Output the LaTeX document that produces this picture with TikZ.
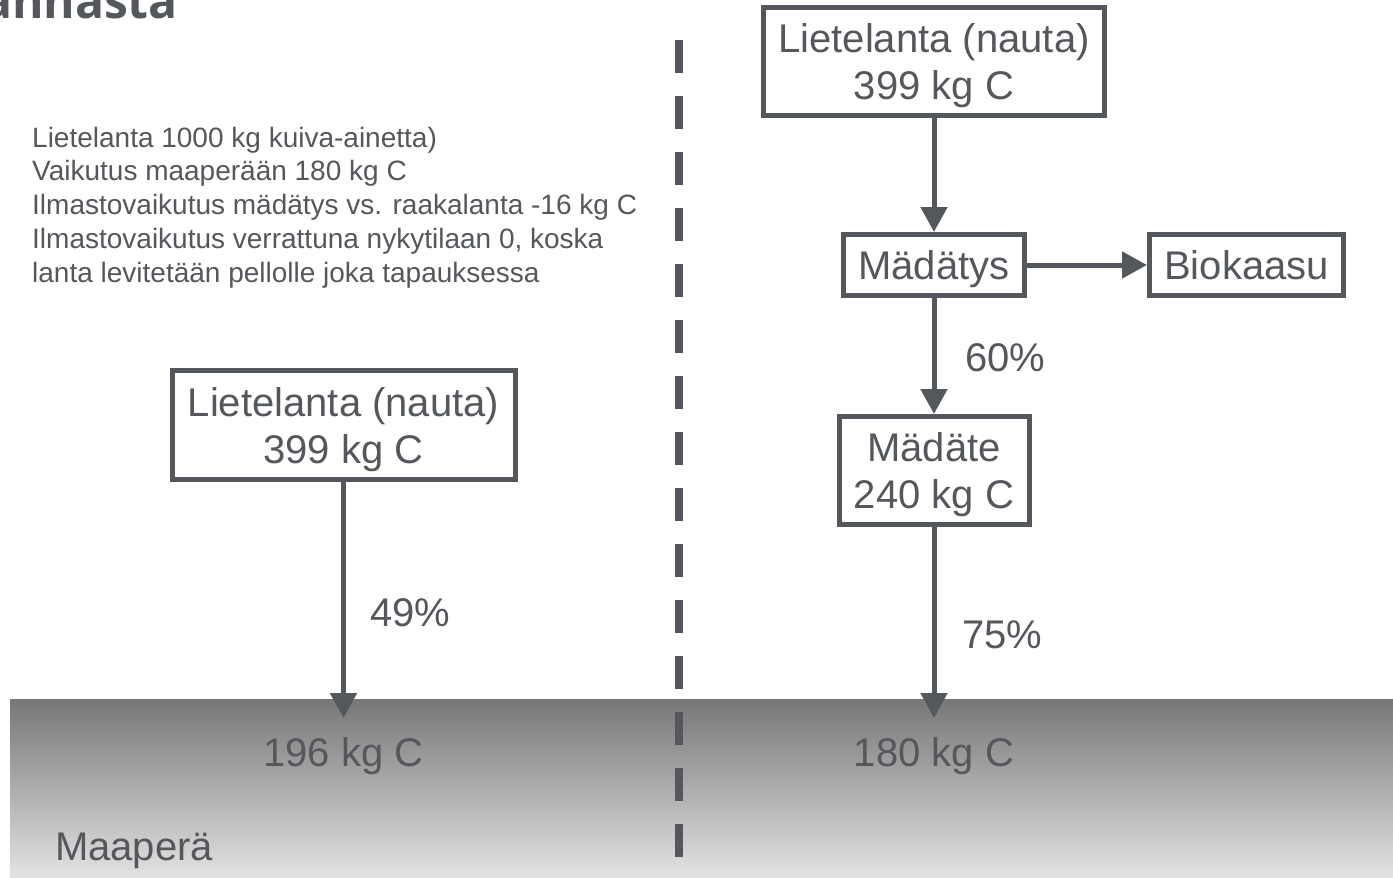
\documentclass[tikz,border=0pt]{standalone}
\usepackage{fontspec}
\setmainfont{Liberation Sans}
\newfontfamily\titlefont{Open Sans}
\usetikzlibrary{arrows.meta}
\definecolor{ink}{RGB}{84,88,92}
\definecolor{soiltop}{RGB}{119,119,119}
\definecolor{soilbot}{RGB}{227,227,227}
\begin{document}
\begin{tikzpicture}[x=1pt,y=-1pt,
  box/.style={draw=ink, line width=5pt, inner sep=0pt, text=ink, font=\fontsize{40}{47}\selectfont, align=center},
  two/.style={text height=76pt, text depth=0pt},
  one/.style={text height=29pt, text depth=0pt},
  arr/.style={draw=ink, line width=5pt, -{Triangle[width=26pt,length=25pt]}},
  lbl/.style={text=ink, inner sep=0pt, font=\fontsize{40}{47}\selectfont},
  divider/.style={draw=ink, line width=8pt, dash pattern=on 33pt off 23pt}]
\path[use as bounding box] (0,0) rectangle (1393,878);
\clip (0,0) rectangle (1393,878);
\fill[white] (0,0) rectangle (1393,878);
\fill[top color=soiltop, bottom color=soilbot] (10,699) rectangle (1393,878);

\node[anchor=base east, inner sep=0pt, text=ink, font=\titlefont\bfseries\fontsize{48}{50}\selectfont] (title) at (178,19) {annasta};

\node[anchor=base west, inner sep=0pt, text=ink, align=left, font=\fontsize{28}{33.75}\selectfont] (note) at (32,282)
  {Lietelanta 1000 kg kuiva-ainetta)\\Vaikutus maaperään 180 kg C\\Ilmastovaikutus mädätys vs. raakalanta -16 kg C\\Ilmastovaikutus verrattuna nykytilaan 0, koska\\lanta levitetään pellolle joka tapauksessa};

\coordinate (d1) at (679,40);
\coordinate (d2) at (679,857);
\draw[divider] (d1) -- (d2);

\node[box,two,minimum width=343pt,minimum height=109pt] (L1) at (343.5,425) {Lietelanta (nauta)\\399 kg C};
\node[box,two,minimum width=341pt,minimum height=108pt] (R1) at (934,61.5) {Lietelanta (nauta)\\399 kg C};
\node[box,one,minimum width=181pt,minimum height=61pt] (R2) at (934,265) {Mädätys};
\node[box,one,minimum width=194pt,minimum height=61pt] (R3) at (1246.5,265) {Biokaasu};
\node[box,two,minimum width=190pt,minimum height=108pt] (R4) at (934,470.5) {Mädäte\\240 kg C};

\coordinate (s1) at (L1.south |- 0,718);
\coordinate (s2) at (R4.south |- 0,718);

\draw[arr] (L1.south) -- (s1);
\draw[arr] (R1.south) -- (R2.north);
\draw[arr] (R2.east) -- (R3.west);
\draw[arr] (R2.south) -- (R4.north);
\draw[arr] (R4.south) -- (s2);

\node[lbl, anchor=base west] (p49) at (370,626) {49\%};
\node[lbl, anchor=base west] (p60) at (965,371) {60\%};
\node[lbl, anchor=base west] (p75) at (962,648) {75\%};
\node[lbl, anchor=base] (c196) at (343.5,766) {196 kg C};
\node[lbl, anchor=base] (c180) at (934,766) {180 kg C};
\node[lbl, anchor=base west] (soil) at (55,860) {Maaperä};
\end{tikzpicture}
\end{document}
